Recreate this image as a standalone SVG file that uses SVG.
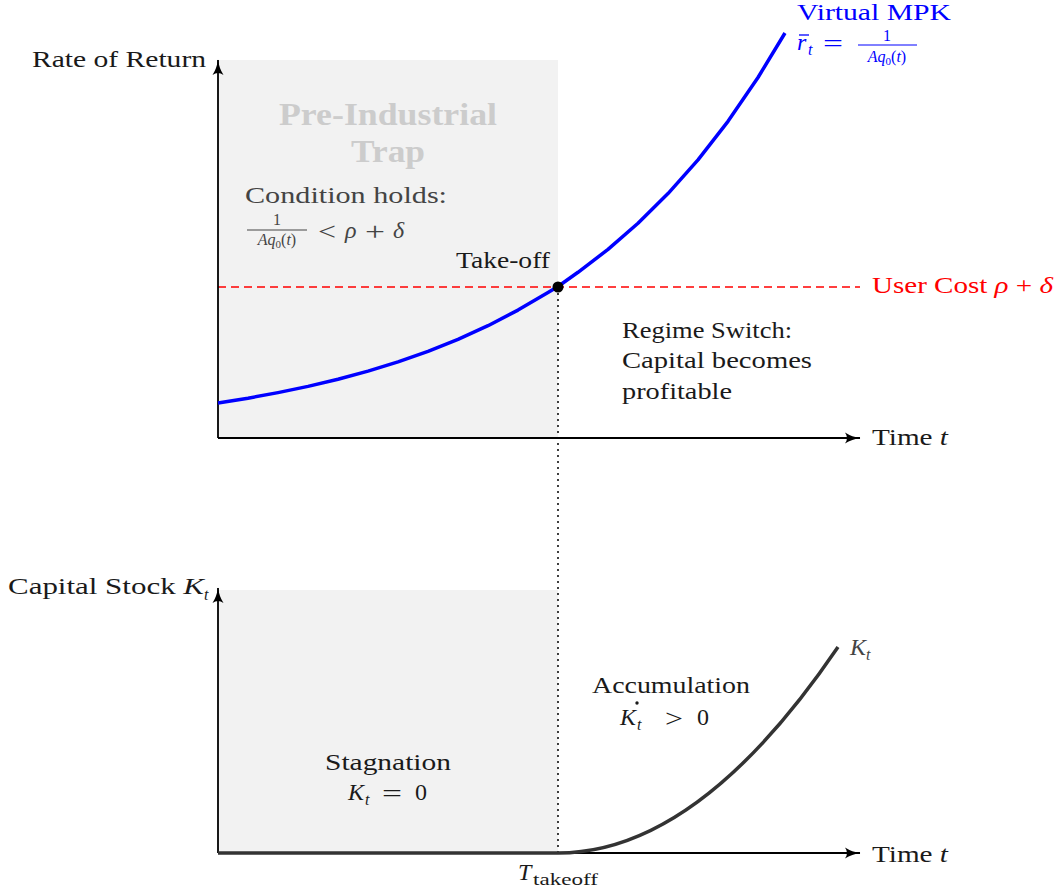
<svg xmlns="http://www.w3.org/2000/svg" width="1058" height="892" viewBox="0 0 1058 892">
<style>
text{font-family:"Liberation Serif","DejaVu Serif",serif;font-size:24px;fill:#1a1a1a}
.i{font-style:italic}
.sub{font-size:16px}
.small{font-size:16px}
.op{font-size:26px}
.gray{fill:#444}
.blue{fill:#0000ff}
.red{fill:#ff0000}
.trap{font-weight:bold;fill:#cccccc;font-size:31px}
.axis{stroke:#000;stroke-width:1.8;fill:none}
</style>
<defs>
<marker id="arr" markerUnits="userSpaceOnUse" markerWidth="16" markerHeight="12" viewBox="0 0 16 12" refX="15" refY="6" orient="auto">
<path d="M0,0.5 Q7,5 15.5,6 Q7,7 0,11.5 Q4,6 0,0.5 Z" fill="#000"/>
</marker>
</defs>
<g id="shading">
<rect x="218" y="60" width="340" height="378" fill="#f2f2f2"/>
<rect x="218" y="590" width="340" height="263" fill="#f2f2f2"/>
</g>
<g id="trap-label">
<text class="trap" x="388" y="125" text-anchor="middle" textLength="218" lengthAdjust="spacingAndGlyphs">Pre-Industrial</text>
<text class="trap" x="388" y="162" text-anchor="middle" textLength="74" lengthAdjust="spacingAndGlyphs">Trap</text>
</g>
<g id="connectors">
<line x1="218" y1="287" x2="860" y2="287" stroke="#ff0000" stroke-width="1.5" stroke-dasharray="8,5"/>
<line x1="558" y1="287" x2="558" y2="853" stroke="#000" stroke-width="1.5" stroke-dasharray="2,4"/>
<line class="axis" x1="218" y1="438" x2="218" y2="60" marker-end="url(#arr)"/>
<line class="axis" x1="218" y1="438" x2="860" y2="438" marker-end="url(#arr)"/>
<line class="axis" x1="218" y1="853" x2="218" y2="588" marker-end="url(#arr)"/>
<line class="axis" x1="218" y1="853" x2="860" y2="853" marker-end="url(#arr)"/>
<path d="M218,403 L248,398.2 L278,392.6 L308,386.4 L338,379.2 L368,371.1 L398,361.8 L428,351.3 L458,339.3 L488,325.7 L518,310.1 L548,292.4 L558,286.5 L578,272.3 L608,249.4 L638,223.3 L668,193.6 L698,159.8 L728,121.3 L758,77.5 L785,33" fill="none" stroke="#0000ff" stroke-width="3.5" stroke-linejoin="round"/>
<path d="M218,853 L558,853 Q698,853 838,647" fill="none" stroke="#333" stroke-width="3.5"/>
</g>
<g id="takeoff">
<circle cx="558" cy="287" r="5.5" fill="#000"/>
<text x="456" y="268" textLength="94" lengthAdjust="spacingAndGlyphs">Take-off</text>
</g>
<g id="top-labels">
<text x="32" y="67" textLength="174" lengthAdjust="spacingAndGlyphs">Rate of Return</text>
<text x="872" y="445" textLength="76" lengthAdjust="spacingAndGlyphs">Time <tspan class="i">t</tspan></text>
<text class="red" x="872" y="293" textLength="181" lengthAdjust="spacingAndGlyphs">User Cost <tspan class="i">ρ</tspan> + <tspan class="i">δ</tspan></text>
</g>
<g id="virtual-mpk">
<text class="blue" x="797" y="20" textLength="154" lengthAdjust="spacingAndGlyphs">Virtual MPK</text>
<text class="blue i" x="797" y="50">r</text>
<line x1="799" y1="35" x2="809" y2="35" stroke="#0000ff" stroke-width="1.3"/>
<text class="blue i sub" x="808" y="55">t</text>
<text class="blue op" x="823" y="52" textLength="20" lengthAdjust="spacingAndGlyphs">=</text>
<text class="blue small" x="887" y="41" text-anchor="middle">1</text>
<line x1="858" y1="45" x2="917" y2="45" stroke="#0000ff" stroke-width="1"/>
<text class="blue small" x="887" y="62" text-anchor="middle"><tspan class="i">Aq</tspan><tspan font-size="11" dy="3">0</tspan><tspan dy="-3">(</tspan><tspan class="i">t</tspan>)</text>
</g>
<g id="condition">
<text class="gray" x="245" y="203" textLength="202" lengthAdjust="spacingAndGlyphs">Condition holds:</text>
<text class="gray small" x="277" y="225" text-anchor="middle">1</text>
<line x1="247" y1="230" x2="307" y2="230" stroke="#444" stroke-width="1"/>
<text class="gray small" x="277" y="245" text-anchor="middle"><tspan class="i">Aq</tspan><tspan font-size="11" dy="3">0</tspan><tspan dy="-3">(</tspan><tspan class="i">t</tspan>)</text>
<text class="gray op" x="318" y="240" textLength="18" lengthAdjust="spacingAndGlyphs">&lt;</text>
<text class="gray i" x="345" y="238">ρ</text>
<text class="gray op" x="365" y="240" textLength="20" lengthAdjust="spacingAndGlyphs">+</text>
<text class="gray i" x="393" y="238">δ</text>
</g>
<g id="regime-switch">
<text x="622" y="338" textLength="170" lengthAdjust="spacingAndGlyphs">Regime Switch:</text>
<text x="622" y="368" textLength="190" lengthAdjust="spacingAndGlyphs">Capital becomes</text>
<text x="622" y="399" textLength="110" lengthAdjust="spacingAndGlyphs">profitable</text>
</g>
<g id="bottom-labels">
<text x="8" y="594" textLength="196" lengthAdjust="spacingAndGlyphs">Capital Stock <tspan class="i">K</tspan></text>
<text class="i sub" x="204" y="600">t</text>
<text x="872" y="862" textLength="76" lengthAdjust="spacingAndGlyphs">Time <tspan class="i">t</tspan></text>
<text class="gray i" x="850" y="655">K</text>
<text class="gray i sub" x="866" y="660">t</text>
</g>
<g id="accumulation">
<text x="671" y="693" text-anchor="middle" textLength="158" lengthAdjust="spacingAndGlyphs">Accumulation</text>
<text class="i" x="620" y="725">K</text>
<circle cx="637" cy="703" r="1.7" fill="#1a1a1a"/>
<text class="i sub" x="637" y="730">t</text>
<text class="op" x="665" y="727" textLength="18" lengthAdjust="spacingAndGlyphs">&gt;</text>
<text x="697" y="725">0</text>
</g>
<g id="stagnation">
<text x="388" y="770" text-anchor="middle" textLength="126" lengthAdjust="spacingAndGlyphs">Stagnation</text>
<text class="i" x="348" y="800">K</text>
<text class="i sub" x="365" y="805">t</text>
<text class="op" x="382" y="802" textLength="20" lengthAdjust="spacingAndGlyphs">=</text>
<text x="415" y="800">0</text>
</g>
<g id="takeoff-time">
<text class="i" x="518" y="880">T</text>
<text class="sub" x="533" y="885" textLength="65" lengthAdjust="spacingAndGlyphs">takeoff</text>
</g>
</svg>
